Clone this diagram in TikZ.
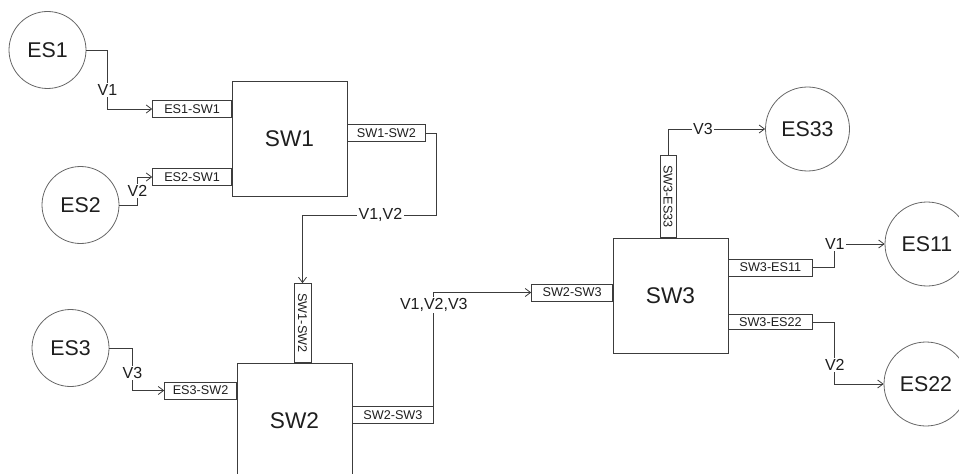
\documentclass[tikz,border=0pt]{standalone}
\usepackage{fontspec}
\setmainfont{Liberation Sans}
\usetikzlibrary{arrows.meta}
\definecolor{wire}{HTML}{3C3C3C}
\definecolor{rim}{HTML}{666666}
\definecolor{ink}{HTML}{1E1E1E}

\begin{document}
\begin{tikzpicture}[x=0.75pt,y=-0.75pt,
  es/.style={circle,draw=rim,line width=0.6pt,minimum size=57.75pt,inner sep=0pt,
             font=\fontsize{16}{18}\selectfont,text=ink},
  esr/.style={es,minimum size=63pt},
  sw/.style={draw=wire,line width=0.75pt,minimum size=86.25pt,inner sep=0pt,
             font=\fontsize{17}{19}\selectfont,text=ink},
  port/.style={draw=wire,line width=0.6pt,minimum height=12.75pt,inner sep=0pt,
               font=\fontsize{9.5}{11}\selectfont,text=ink},
  vlab/.style={fill=white,inner sep=1pt,font=\fontsize{12}{14}\selectfont,text=ink},
  link/.style={draw=wire,line width=0.6pt},
  >={Straight Barb[length=4pt,width=6pt]}]
  \clip (0,0) rectangle (959,474);
  % end stations
  \node[es] (e1) at (47.5,50) {ES1};
  \node[es] (e2) at (80.5,205) {ES2};
  \node[es] (e3) at (70.5,348) {ES3};
  \node[esr] (e33) at (807.5,129) {ES33};
  \node[esr] (e11) at (927,244) {ES11};
  \node[esr] (e22) at (926,384) {ES22};
  % switches
  \node[sw] (s1) at (289.5,139) {SW1};
  \node[sw] (s2) at (294.5,420.5) {SW2};
  \node[sw] (s3) at (670.5,295.5) {SW3};
  % ports
  \node[port,minimum width=59.25pt,anchor=east] (p11) at (232,109) {ES1-SW1};
  \node[port,minimum width=59.25pt,anchor=east] (p21) at (232,177) {ES2-SW1};
  \node[port,minimum width=58.5pt,anchor=west] (p12) at (347,133) {SW1-SW2};
  \node[port,minimum width=59.25pt,rotate=-90,anchor=east] (p12b) at (302.5,363) {SW1-SW2};
  \node[port,minimum width=54pt,anchor=east] (p32) at (237,390.5) {ES3-SW2};
  \node[port,minimum width=60.75pt,anchor=west] (p23) at (352,415) {SW2-SW3};
  \node[port,minimum width=60.75pt,anchor=east] (p23b) at (613,292.5) {SW2-SW3};
  \node[port,minimum width=61.5pt,minimum height=12pt,rotate=-90,anchor=east] (p33) at (668,238) {SW3-ES33};
  \node[port,minimum width=63pt,anchor=west] (p311) at (728,267.5) {SW3-ES11};
  \node[port,minimum width=63pt,minimum height=11pt,anchor=west] (p322) at (728,322) {SW3-ES22};
  % flows
  \draw[link,->] (e1.east) -- ++(21,0) -- ++(0,40) node[vlab]{V1} |- (p11.west);
  \draw[link,->] (e2.east) -- ++(18,0) -- ++(0,-14) node[vlab]{V2} |- (p21.west);
  \draw[link,->] (e3.east) -- ++(23,0) -- ++(0,25) node[vlab]{V3} |- (p32.west);
  \draw[link,->] (p12.east) -- ++(11,0) -- ++(0,82) -| node[vlab,pos=0.21]{V1,V2} (p12b.west);
  \draw[link,->] (p23.east) |- node[vlab,pos=0.45]{V1,V2,V3} (p23b.west);
  \draw[link,->] (p33.west) |- node[vlab,pos=0.68]{V3} (e33.west);
  \draw[link,->] (p311.east) -- ++(22,0) |- node[vlab,pos=0.5]{V1} (e11.west);
  \draw[link,->] (p322.east) -- ++(22,0) -- ++(0,43) node[vlab]{V2} |- (e22.west);
\end{tikzpicture}
\end{document}
